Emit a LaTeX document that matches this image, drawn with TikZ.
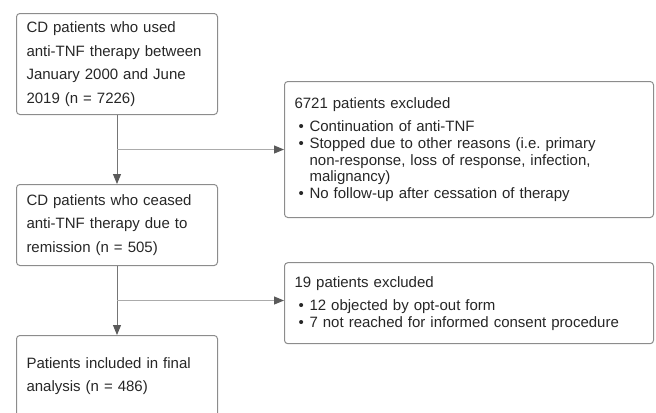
\documentclass[tikz,border=0pt]{standalone}
\usepackage{fontspec}
\setmainfont{Liberation Sans}
\usepackage{tikz}
\usetikzlibrary{arrows.meta, positioning, calc}

\definecolor{boxline}{HTML}{8C8C8C}
\definecolor{trunkline}{HTML}{757575}
\definecolor{branchline}{HTML}{ABABAB}
\definecolor{tipgray}{HTML}{5A5A5A}
\definecolor{txt}{HTML}{262626}

\newcommand{\bul}[1]{\hspace*{3pt}\makebox[8.3pt][l]{\textbullet}#1}
\newcommand{\cont}[1]{\hspace*{11.3pt}#1}
\frenchspacing

\begin{document}
\begin{tikzpicture}[
  stage/.style={rectangle, draw=boxline, line width=0.75pt, rounded corners=2.5pt,
    text=txt, align=left, inner xsep=7.5pt, inner ysep=0pt, text width=135.75pt,
    minimum height=60.75pt, font=\fontsize{11.25}{17.6}\selectfont},
  excl/.style={rectangle, draw=boxline, line width=0.75pt, rounded corners=2.5pt,
    text=txt, align=left, inner xsep=7.5pt, inner ysep=0pt, text width=261.75pt,
    font=\fontsize{11.25}{12.5}\selectfont},
  trunk/.style={draw=trunkline, line width=0.75pt, -{Triangle[length=7.5pt,width=6pt,color=tipgray]}},
  branch/.style={draw=branchline, line width=0.75pt, -{Triangle[length=7.5pt,width=6pt,color=tipgray]}}
]
  \useasboundingbox (0,0) rectangle (492pt,-309pt);

  % main flow
  \node[stage, anchor=north west, minimum height=75.75pt] (cohort) at (12pt,-9.75pt)
    {CD patients who used\\anti-TNF therapy between\\January 2000 and June\\2019 (n = 7226)};
  \node[stage, below=51.75pt of cohort] (ceased)
    {CD patients who ceased\\anti-TNF therapy due to\\remission (n = 505)};
  \node[stage, below=51.75pt of ceased] (final)
    {Patients included in final\\analysis (n = 486)};

  \coordinate (split1) at ($(cohort.south)!0.5!(ceased.north)$);
  \coordinate (split2) at ($(ceased.south)!0.5!(final.north)$);

  % exclusions
  \node[excl, right=125.25pt of split1, minimum height=102pt] (excl1)
    {6721 patients excluded\\[5pt]
     \bul{Continuation of anti-TNF}\\
     \bul{Stopped due to other reasons (i.e. primary}\\
     \cont{non-response, loss of response, infection,}\\
     \cont{malignancy)}\\
     \bul{No follow-up after cessation of therapy}};
  \node[excl, right=125.25pt of split2, yshift=-2pt, minimum height=60.75pt] (excl2)
    {19 patients excluded\\[5pt]
     \bul{12 objected by opt-out form}\\
     \bul{7 not reached for informed consent procedure}};

  \draw[trunk] (cohort) -- (ceased);
  \draw[trunk] (ceased) -- (final);
  \draw[branch] (split1) -- (excl1);
  \draw[branch] (split2) -- (split2 -| excl2.west);
\end{tikzpicture}
\end{document}
